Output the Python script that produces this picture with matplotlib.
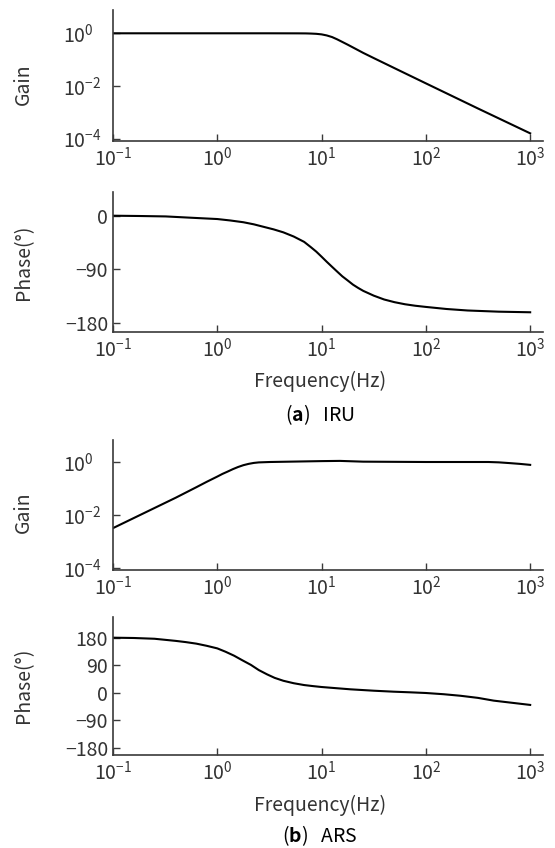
import numpy as np
import matplotlib
matplotlib.use('Agg')
import matplotlib.pyplot as plt
from matplotlib.ticker import NullLocator

# 字体设置（日文黑体风格）
plt.rcParams['font.family'] = ['Noto Sans CJK JP', 'DejaVu Sans']
plt.rcParams['mathtext.fontset'] = 'custom'
plt.rcParams['mathtext.rm'] = 'Noto Sans CJK JP'
plt.rcParams['mathtext.it'] = 'Noto Sans CJK JP'
plt.rcParams['mathtext.bf'] = 'Noto Sans CJK JP:bold'
plt.rcParams['axes.unicode_minus'] = True

# (a) IRU 频率响应
iru_gain_freq = [0.1, 1, 3, 6, 7.1, 7.9, 8.9, 10, 11.2, 12.6, 14.1, 15.8, 17.8, 20,
                 25.1, 31.6, 56.2, 100, 316, 1000]
iru_gain = [1.0, 1.0, 1.0, 0.995, 0.99, 0.977, 0.955, 0.91, 0.83, 0.72, 0.59, 0.47,
            0.37, 0.29, 0.18, 0.115, 0.038, 0.0126, 0.0014, 0.00016]
iru_phase_freq = [0.1, 0.18, 0.32, 0.56, 1, 1.33, 1.78, 2.24, 2.75, 3.47, 4.3, 5.4,
                  6.8, 7.9, 8.9, 10, 11.2, 12.6, 14.1, 15.8, 17.8, 20, 22.4, 25.1,
                  31.6, 39.8, 50, 63, 79, 100, 158, 251, 500, 1000]
iru_phase = [0, -0.5, -1.2, -3.4, -5.6, -8, -11, -14.5, -18.5, -23, -28, -35,
             -44, -53, -60.5, -69, -77.5, -86, -94, -102, -109, -116, -121.5, -126.5,
             -134.5, -141, -145.5, -149, -151.5, -153.5, -157, -159.5, -161.5, -162.5]

# (b) ARS 频率响应
ars_gain_freq = [0.1, 0.2, 0.4, 0.63, 0.79, 1, 1.12, 1.26, 1.41, 1.58, 1.78, 2.0,
                 2.24, 2.5, 3.2, 10, 15, 25, 100, 398, 500, 631, 794, 1000]
ars_gain = [0.0032, 0.012, 0.045, 0.112, 0.178, 0.282, 0.355, 0.437, 0.537, 0.646,
            0.759, 0.851, 0.923, 0.966, 1.0, 1.08, 1.1, 1.03, 1.0, 1.0, 0.97, 0.91,
            0.85, 0.78]
ars_phase_freq = [0.1, 0.158, 0.25, 0.4, 0.5, 0.63, 0.79, 1, 1.2, 1.45, 1.74, 2.1,
                  2.5, 3.0, 3.55, 4.3, 5.4, 6.8, 8.3, 10, 14.1, 19, 31.6, 49, 71, 100,
                  148, 214, 316, 447, 631, 1000]
ars_phase = [180, 179, 176.5, 169.5, 165.5, 160.5, 153.5, 145, 134, 121, 106, 91,
             74, 60, 48.5, 39, 31, 25, 21.5, 18.6, 14.5, 11, 6.5, 3.3, 1.2, -1,
             -5, -10, -17, -26, -32, -40]

freq_ticks = [0.1, 1, 10, 100, 1000]
freq_labels = [r'$10^{-1}$', r'$10^{0}$', r'$10^{1}$', r'$10^{2}$', r'$10^{3}$']
gain_ticks = [1, 1e-2, 1e-4]
gain_labels = [r'$10^{0}$', r'$10^{-2}$', r'$10^{-4}$']

text_color = '#333333'
axis_color = '#3a3a3a'
fs = 14

fig = plt.figure(figsize=(5.55, 8.48), dpi=100)
W, H = 555.0, 848.0


def make_axes(top, bottom):
    ax = fig.add_axes([113 / W, 1 - bottom / H, 430 / W, (bottom - top) / H])
    ax.spines['top'].set_visible(False)
    ax.spines['right'].set_visible(False)
    for s in ['left', 'bottom']:
        ax.spines[s].set_color(axis_color)
        ax.spines[s].set_linewidth(1.2)
    ax.set_xscale('log')
    ax.set_xlim(0.1, 10 ** 3.123)
    ax.set_xticks(freq_ticks, freq_labels)
    ax.xaxis.set_minor_locator(NullLocator())
    ax.tick_params(direction='in', length=5, width=1.0, color=axis_color,
                   labelcolor=text_color, labelsize=fs)
    ax.tick_params(axis='x', pad=4)
    return ax


def gain_axes(ax, ylim, label_y):
    ax.set_yscale('log')
    ax.set_ylim(*ylim)
    ax.set_yticks(gain_ticks, gain_labels)
    ax.yaxis.set_minor_locator(NullLocator())
    ax.tick_params(axis='y', pad=36)
    for lab in ax.get_yticklabels():
        lab.set_horizontalalignment('left')
    ax.set_ylabel('Gain', fontsize=fs, color=text_color, va='center')
    ax.yaxis.set_label_coords(-0.209, label_y)


def phase_axes(ax, ylim, ticks, label_y):
    ax.set_ylim(*ylim)
    ax.set_yticks(ticks)
    ax.tick_params(axis='y', pad=3.6)
    ax.set_ylabel('Phase(°)', fontsize=fs, color=text_color, va='center')
    ax.yaxis.set_label_coords(-0.209, label_y)


def freq_label(ax, y):
    ax.set_xlabel('Frequency(Hz)', fontsize=fs, color=text_color)
    ax.xaxis.set_label_coords(0.481, y)
    ax.xaxis.label.set_verticalalignment('center')


# IRU 增益
ax1 = make_axes(10, 141)
ax1.plot(iru_gain_freq, iru_gain, color='black', lw=1.5)
gain_axes(ax1, (10 ** -4.087, 10 ** 0.884), 0.435)

# IRU 相位
ax2 = make_axes(192, 332)
ax2.plot(iru_phase_freq, iru_phase, color='black', lw=1.5)
phase_axes(ax2, (-195.7, 39.9), [0, -90, -180], 0.5)
freq_label(ax2, -0.35)

# ARS 增益
ax3 = make_axes(440, 570)
ax3.plot(ars_gain_freq, ars_gain, color='black', lw=1.5)
gain_axes(ax3, (10 ** -4.075, 10 ** 0.83), 0.446)

# ARS 相位
ax4 = make_axes(617, 755)
ax4.plot(ars_phase_freq, ars_phase, color='black', lw=1.5)
phase_axes(ax4, (-203.9, 247.7), [180, 90, 0, -90, -180], 0.507)
freq_label(ax4, -0.362)

# 子图标题
fig.text(320 / W, 1 - 415 / H, r'($\mathbf{a}$)   IRU', ha='center', va='center',
         fontsize=fs, color='black')
fig.text(320 / W, 1 - 836 / H, r'($\mathbf{b}$)   ARS', ha='center', va='center',
         fontsize=fs, color='black')

fig.savefig('out.png', dpi=100)
